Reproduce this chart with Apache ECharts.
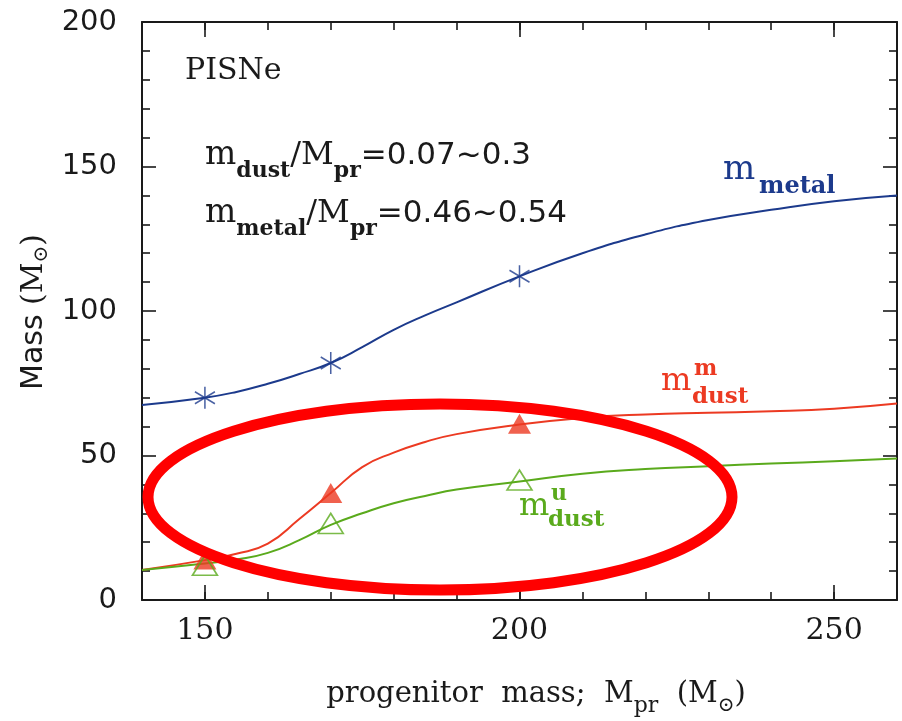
<!DOCTYPE html>
<html><head><meta charset="utf-8">
<script src="https://cdn.jsdelivr.net/npm/echarts@6/dist/echarts.min.js"></script>
<style>html,body{margin:0;padding:0;background:#fff}#c{width:902px;height:721px}</style>
</head><body><div id="c"></div>
<script>
// ---- data ----
const curveX    = [140,150,155,160,165,170,175,180,185,190,200,210,220,230,240,250,260];
const metalY    = [67.5,70,72,74.8,78.2,82,87.5,93.5,98.5,103,112,120,126.5,131.5,135,138,140];
const dustMY    = [10.4,13.8,16,19.5,28,37,46,51,54.7,57.4,60.7,63,64.2,64.8,65.3,66.2,68];
const dustUY    = [10.4,12.6,14,16.3,20.7,26,30,33.5,36,38.2,41,43.7,45.3,46.3,47.2,48,49];
const markX     = [150,170,200];
const metalMark = [70,82,112];
const dustMMark = [14,37,61];
const dustUMark = [12,26.5,41.5];
const xMajorTicks = [150,200,250];
const xRange = [140,260];
const yRange = [0,200];

const BLUE = '#1c3a8c', RED = '#ec3a22', GREEN = '#5aaa1c', INK = '#1a1a1a';
const SERIF = '"DejaVu Serif"', SANS = '"DejaVu Sans"';

const chart = echarts.init(document.getElementById('c'));
const pairs = (xs, ys) => xs.map((x, i) => [x, ys[i]]);

const ctx = document.createElement('canvas').getContext('2d');
function measure(p) {
  ctx.font = (p.weight || 'normal') + ' ' + p.size + 'px ' + p.family;
  return ctx.measureText(p.t).width;
}
function piece(t, x, baseline, size, family, weight, color) {
  return {
    type: 'text', x: x, y: baseline - 0.35 * size, z: 50,
    style: { text: t, fill: color, fontSize: size, fontFamily: family, fontWeight: weight || 'normal',
             align: 'left', verticalAlign: 'middle' }
  };
}
function compose(pieces, x, baseline, color, centre) {
  let total = 0;
  pieces.forEach(p => { p.w = measure(p); total += p.w; });
  let cx = centre ? x - total / 2 : x;
  const out = [];
  pieces.forEach(p => {
    out.push(piece(p.t, cx, baseline + (p.dy || 0), p.size, p.family, p.weight, p.color || color));
    cx += p.w;
  });
  return out;
}

const graphics = [];
graphics.push(piece('PISNe', 185, 82, 30, SERIF, 'normal', INK));
graphics.push(...compose([
  {t:'m', size:33, family:SERIF},
  {t:'dust', size:22, family:SERIF, weight:'bold', dy:12},
  {t:'/', size:32, family:SERIF},
  {t:'M', size:32, family:SERIF},
  {t:'pr', size:22, family:SERIF, weight:'bold', dy:12},
  {t:'=0.07~0.3', size:31, family:SANS}
], 205, 167, INK));
graphics.push(...compose([
  {t:'m', size:33, family:SERIF},
  {t:'metal', size:22, family:SERIF, weight:'bold', dy:12},
  {t:'/', size:32, family:SERIF},
  {t:'M', size:32, family:SERIF},
  {t:'pr', size:22, family:SERIF, weight:'bold', dy:12},
  {t:'=0.46~0.54', size:31, family:SANS}
], 205, 225, INK));
graphics.push(piece('m', 723, 182, 34, SERIF, 'normal', BLUE));
graphics.push(piece('metal', 759, 195, 24, SERIF, 'bold', BLUE));
graphics.push(piece('m', 661, 393, 32, SERIF, 'normal', RED));
graphics.push(piece('m', 694, 377, 22, SERIF, 'bold', RED));
graphics.push(piece('dust', 692, 405, 23, SERIF, 'bold', RED));
graphics.push(piece('m', 519, 518, 32, SERIF, 'normal', GREEN));
graphics.push(piece('u', 551, 502, 22, SERIF, 'bold', GREEN));
graphics.push(piece('dust', 548, 528, 23, SERIF, 'bold', GREEN));
graphics.push(...compose([
  {t:'progenitor  mass;  M', size:29, family:SERIF},
  {t:'pr', size:22, family:SERIF, dy:9},
  {t:'  (M', size:29, family:SERIF},
  {t:'\u2299', size:20, family:SERIF, dy:8},
  {t:')', size:29, family:SERIF}
], 536, 705, INK, true));
graphics.push({
  type: 'text', x: 34, y: 312, rotation: Math.PI / 2, z: 50,
  style: {
    text: '{a|Mass }{b|(M}{c|\u2299}{b|)}',
    align: 'center', verticalAlign: 'middle', fill: INK,
    rich: {
      a: { fontSize: 30, fontFamily: SANS, fill: INK },
      b: { fontSize: 30, fontFamily: SERIF, fill: INK },
      c: { fontSize: 20, fontFamily: SERIF, fill: INK, padding: [16, 0, 0, 0] }
    }
  }
});
graphics.push({
  type: 'ellipse', z: 100,
  shape: { cx: 440, cy: 497, rx: 292, ry: 93 },
  style: { fill: 'none', stroke: '#ff0000', lineWidth: 11 }
});

const axisLine = { show: true, lineStyle: { color: INK, width: 2 } };
const tickStyle = { color: INK, width: 1.6 };
function xAxisMajor(pos, labels) {
  return {
    type: 'value', position: pos, min: xRange[0], max: xRange[1], gridIndex: 0,
    axisLine: axisLine, splitLine: { show: false },
    axisTick: { show: true, inside: true, length: 15, lineStyle: tickStyle, customValues: xMajorTicks },
    axisLabel: labels ? { show: true, customValues: xMajorTicks, margin: 16,
      fontSize: 30, fontFamily: SERIF, color: INK } : { show: false }
  };
}
function xAxisMinor(pos) {
  return {
    type: 'value', position: pos, min: xRange[0], max: xRange[1], interval: 10, gridIndex: 0,
    axisLine: { show: false }, splitLine: { show: false },
    axisTick: { show: true, inside: true, length: 8, lineStyle: tickStyle },
    axisLabel: { show: false }
  };
}
function yAxisDef(pos, labels) {
  return {
    type: 'value', position: pos, min: yRange[0], max: yRange[1], interval: 50, gridIndex: 0,
    axisLine: axisLine, splitLine: { show: false },
    axisTick: { show: true, inside: true, length: 14, lineStyle: tickStyle },
    minorTick: { show: true, splitNumber: 5, length: 8, lineStyle: tickStyle },
    axisLabel: labels ? { show: true, margin: 25, fontSize: 29, fontFamily: SANS, color: INK } : { show: false }
  };
}

const lineSeries = (ys, color) => ({
  type: 'line', xAxisIndex: 0, yAxisIndex: 0, data: pairs(curveX, ys),
  smooth: 0.5, showSymbol: false, symbol: 'none',
  lineStyle: { color: color, width: 2 }, z: 3, silent: true
});

chart.setOption({
  animation: false,
  backgroundColor: '#ffffff',
  grid: { left: 142, right: 5, top: 22, bottom: 121, containLabel: false },
  xAxis: [xAxisMajor('bottom', true), xAxisMinor('bottom'), xAxisMajor('top', false), xAxisMinor('top')],
  yAxis: [yAxisDef('left', true), yAxisDef('right', false)],
  series: [
    lineSeries(metalY, BLUE),
    lineSeries(dustMY, RED),
    lineSeries(dustUY, GREEN),
    { type: 'scatter', xAxisIndex: 0, yAxisIndex: 0, data: pairs(markX, metalMark), z: 5,
      symbol: 'path://M0,-11L0,11M-10,-6L10,6M-10,6L10,-6', symbolSize: [20, 22],
      itemStyle: { color: 'rgba(0,0,0,0)', borderColor: BLUE, borderWidth: 1.6 } },
    { type: 'scatter', xAxisIndex: 0, yAxisIndex: 0, data: pairs(markX, dustMMark), z: 5,
      symbol: 'triangle', symbolSize: [23, 20], itemStyle: { color: RED } },
    { type: 'scatter', xAxisIndex: 0, yAxisIndex: 0, data: pairs(markX, dustUMark), z: 5,
      symbol: 'triangle', symbolSize: [25, 20],
      itemStyle: { color: 'rgba(255,255,255,0)', borderColor: GREEN, borderWidth: 1.6 } }
  ],
  graphic: graphics
});
</script>
</body></html>
